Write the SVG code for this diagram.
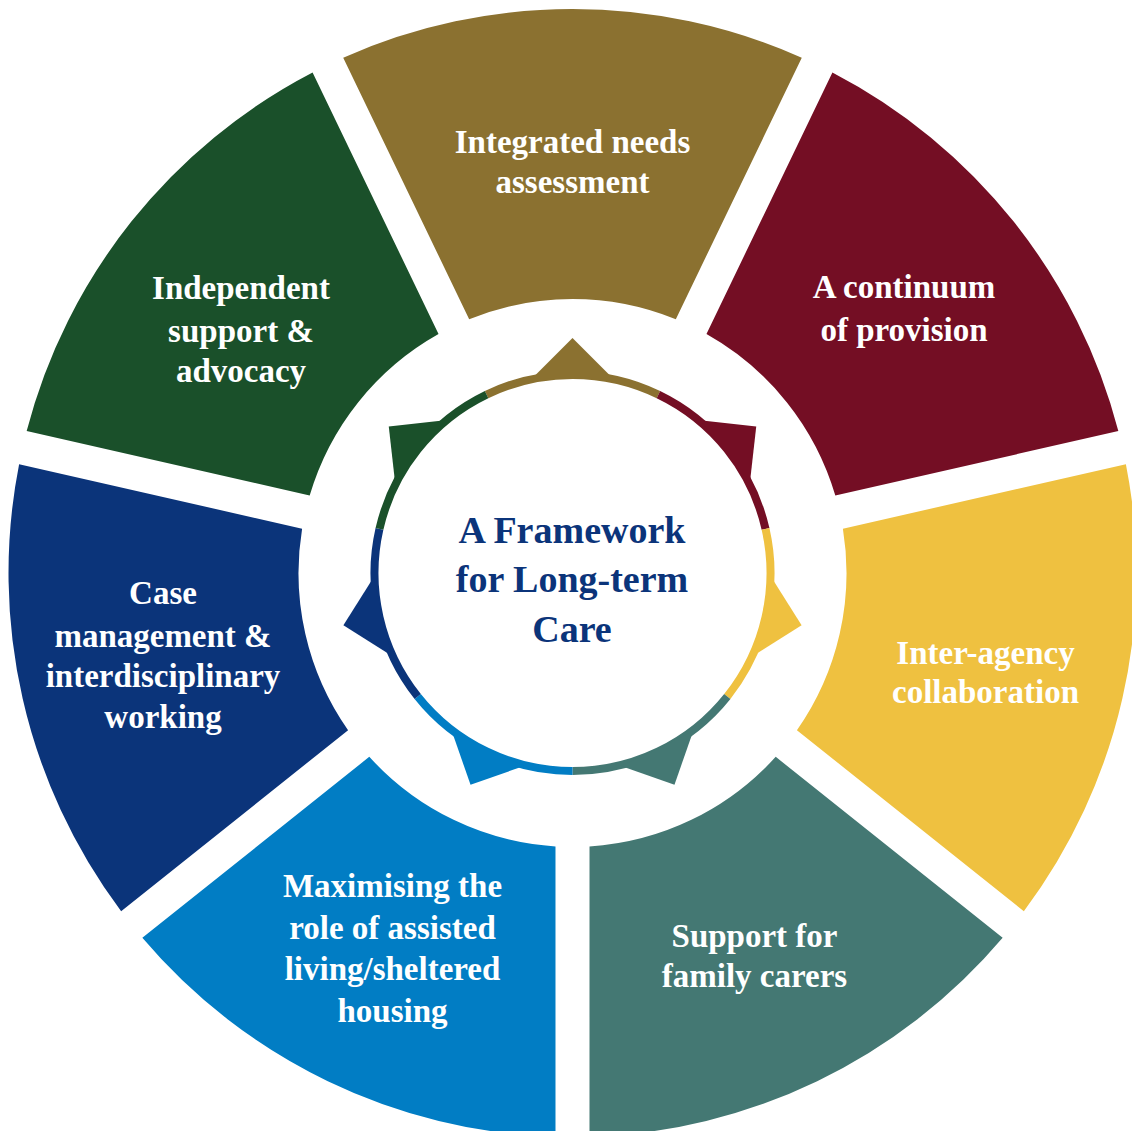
<svg xmlns="http://www.w3.org/2000/svg" xmlns:xlink="http://www.w3.org/1999/xlink" width="1132" height="1131" viewBox="0 0 1132 1131">
  <style>
    .lbl { font-family: "Liberation Serif", "Times New Roman", serif; font-weight: bold; font-size: 33px; fill: #ffffff; text-anchor: middle; }
    .title { font-family: "Liberation Serif", "Times New Roman", serif; font-weight: bold; font-size: 38px; fill: #0b347a; text-anchor: middle; }
    .ring { fill: none; stroke-width: 8; }
  </style>
  <defs>
    <path id="seg" d="M -229.28 -515.29 A 564 564 0 0 1 229.28 -515.29 L 103.33 -253.77 A 274 274 0 0 0 -103.33 -253.77 Z"/>
    <path id="arc" d="M -85.91 -178.39 A 198 198 0 0 1 85.91 -178.39"/>
    <path id="tri" d="M 0 -235 L 40 -195 L -40 -195 Z"/>
  </defs>
  <rect x="0" y="0" width="1132" height="1131" fill="#ffffff"/>

  <g id="connectors">
    <g transform="translate(572.5 573)">
      <g transform="rotate(0)" fill="#8b7130" stroke="#8b7130"><use xlink:href="#arc" class="ring"/><use xlink:href="#tri" stroke="none"/></g>
      <g transform="rotate(51.4286)" fill="#740e24" stroke="#740e24"><use xlink:href="#arc" class="ring"/><use xlink:href="#tri" stroke="none"/></g>
      <g transform="rotate(102.8571)" fill="#efc140" stroke="#efc140"><use xlink:href="#arc" class="ring"/><use xlink:href="#tri" stroke="none"/></g>
      <g transform="rotate(154.2857)" fill="#447873" stroke="#447873"><use xlink:href="#arc" class="ring"/><use xlink:href="#tri" stroke="none"/></g>
      <g transform="rotate(205.7143)" fill="#017dc4" stroke="#017dc4"><use xlink:href="#arc" class="ring"/><use xlink:href="#tri" stroke="none"/></g>
      <g transform="rotate(257.1429)" fill="#0b347a" stroke="#0b347a"><use xlink:href="#arc" class="ring"/><use xlink:href="#tri" stroke="none"/></g>
      <g transform="rotate(308.5714)" fill="#1a502a" stroke="#1a502a"><use xlink:href="#arc" class="ring"/><use xlink:href="#tri" stroke="none"/></g>
    </g>
  </g>

  <g id="node-integrated">
    <use xlink:href="#seg" fill="#8b7130" transform="translate(572.5 573) rotate(0)"/>
    <text class="lbl" x="572.5" y="153">Integrated needs</text>
    <text class="lbl" x="572.5" y="193">assessment</text>
  </g>
  <g id="node-continuum">
    <use xlink:href="#seg" fill="#740e24" transform="translate(572.5 573) rotate(51.4286)"/>
    <text class="lbl" x="904" y="298">A continuum</text>
    <text class="lbl" x="904" y="341">of provision</text>
  </g>
  <g id="node-interagency">
    <use xlink:href="#seg" fill="#efc140" transform="translate(572.5 573) rotate(102.8571)"/>
    <text class="lbl" x="985.5" y="664">Inter-agency</text>
    <text class="lbl" x="985.5" y="703">collaboration</text>
  </g>
  <g id="node-family">
    <use xlink:href="#seg" fill="#447873" transform="translate(572.5 573) rotate(154.2857)"/>
    <text class="lbl" x="754.5" y="947">Support for</text>
    <text class="lbl" x="754.5" y="987">family carers</text>
  </g>
  <g id="node-housing">
    <use xlink:href="#seg" fill="#017dc4" transform="translate(572.5 573) rotate(205.7143)"/>
    <text class="lbl" x="392.5" y="897">Maximising the</text>
    <text class="lbl" x="392.5" y="939">role of assisted</text>
    <text class="lbl" x="392.5" y="980">living/sheltered</text>
    <text class="lbl" x="392.5" y="1022">housing</text>
  </g>
  <g id="node-case">
    <use xlink:href="#seg" fill="#0b347a" transform="translate(572.5 573) rotate(257.1429)"/>
    <text class="lbl" x="163" y="604">Case</text>
    <text class="lbl" x="163" y="647">management &amp;</text>
    <text class="lbl" x="163" y="687">interdisciplinary</text>
    <text class="lbl" x="163" y="728">working</text>
  </g>
  <g id="node-advocacy">
    <use xlink:href="#seg" fill="#1a502a" transform="translate(572.5 573) rotate(308.5714)"/>
    <text class="lbl" x="241" y="299">Independent</text>
    <text class="lbl" x="241" y="342">support &amp;</text>
    <text class="lbl" x="241" y="382">advocacy</text>
  </g>
  <g id="node-center">
    <text class="title" x="572" y="543">A Framework</text>
    <text class="title" x="572" y="592">for Long-term</text>
    <text class="title" x="572" y="642">Care</text>
  </g>
</svg>
